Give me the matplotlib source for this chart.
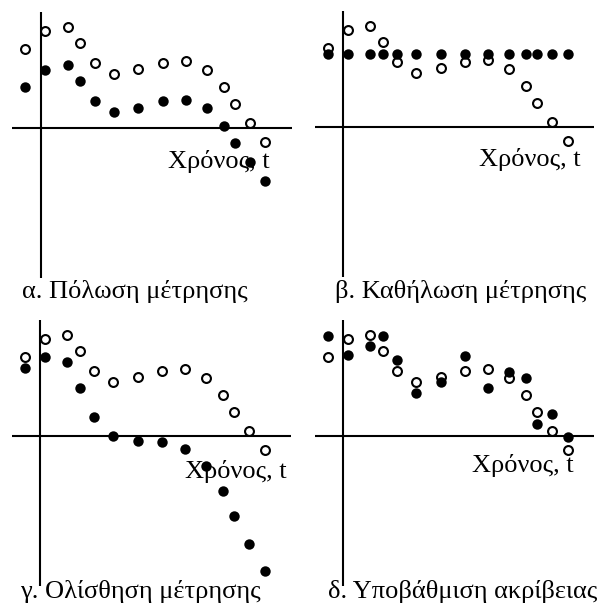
import matplotlib
matplotlib.use("Agg")
import matplotlib.pyplot as plt

# ---- data (units: arbitrary, time axis at x=0, value axis at y=0) ----
t = [-1.55, 0.45, 2.7, 3.95, 5.4, 7.3, 9.75, 12.2, 14.5, 16.6, 18.3, 19.4, 20.9, 22.45]
true_vals = [7.9, 9.7, 10.1, 8.5, 6.5, 5.4, 5.9, 6.5, 6.7, 5.8, 4.1, 2.4, 0.5, -1.4]

meas_bias = [4.1, 5.8, 6.3, 4.7, 2.7, 1.6, 2.0, 2.7, 2.8, 2.0, 0.2, -1.5, -3.4, -5.3]
meas_stuck = [7.3, 7.3, 7.3, 7.3, 7.3, 7.3, 7.3, 7.3, 7.3, 7.3, 7.3, 7.3, 7.3, 7.3]
meas_drift = [6.8, 7.9, 7.4, 4.8, 1.9, 0.0, -0.5, -0.6, -1.3, -3.0, -5.5, -8.0, -10.8, -13.5]
meas_prec = [10.0, 8.1, 9.0, 10.0, 7.6, 4.3, 5.4, 8.0, 4.8, 6.4, 5.8, 1.2, 2.2, -0.1]

titles = ["α. Πόλωση μέτρησης", "β. Καθήλωση μέτρησης",
          "γ. Ολίσθηση μέτρησης", "δ. Υποβάθμιση ακρίβειας"]
xlabel = "Χρόνος, t"

W, H = 598, 611
fig = plt.figure(figsize=(W / 100, H / 100), dpi=100)
plt.rcParams['font.family'] = ['Liberation Serif', 'DejaVu Serif']

SCALE = 10.0  # pixels per data unit
FS = 19

# panel boxes (x0, y0 top, w, h) and origin (ox, oy) in pixels
panels = [
    dict(box=(0, 0, 299, 305), origin=(40.7, 127.7), meas=meas_bias,
         label_right=(270, 168), title_left=(22, 298)),
    dict(box=(299, 0, 299, 305), origin=(343.3, 127.0), meas=meas_stuck,
         label_right=(581, 166), title_left=(335, 298)),
    dict(box=(0, 305, 299, 306), origin=(40.3, 436.0), meas=meas_drift,
         label_right=(287, 478), title_left=(20, 598)),
    dict(box=(299, 305, 299, 306), origin=(343.3, 436.0), meas=meas_prec,
         label_right=(574, 472), title_left=(328, 598)),
]

for p, title in zip(panels, titles):
    x0, y0, w, h = p["box"]
    ox, oy = p["origin"]
    ax = fig.add_axes([x0 / W, 1 - (y0 + h) / H, w / W, h / H])
    ax.set_xlim((x0 - ox) / SCALE, (x0 + w - ox) / SCALE)
    ax.set_ylim((oy - (y0 + h)) / SCALE, (oy - y0) / SCALE)
    ax.axis("off")
    # axes lines
    ax.plot([0, 0], [-15.0, 11.6], color="black", lw=1.5, zorder=2, solid_capstyle="butt")
    ax.plot([-2.85, 25.1], [0, 0], color="black", lw=1.5, zorder=2, solid_capstyle="butt")
    # points
    ax.plot(t, true_vals, "o", ms=6.4, mfc="white", mec="black", mew=1.5, zorder=4,
            clip_on=False)
    ax.plot(t, p["meas"], "o", ms=7.5, mfc="black", mec="black", mew=0, zorder=5,
            clip_on=False)
    lx, ly = p["label_right"]
    ax.text(lx / W, 1 - ly / H, xlabel, transform=fig.transFigure, ha="right",
            va="baseline", fontsize=FS, zorder=1)
    tx, ty = p["title_left"]
    ax.text(tx / W, 1 - ty / H, title, transform=fig.transFigure, ha="left",
            va="baseline", fontsize=FS, zorder=1)

fig.savefig("out.png", dpi=100, facecolor="white")
